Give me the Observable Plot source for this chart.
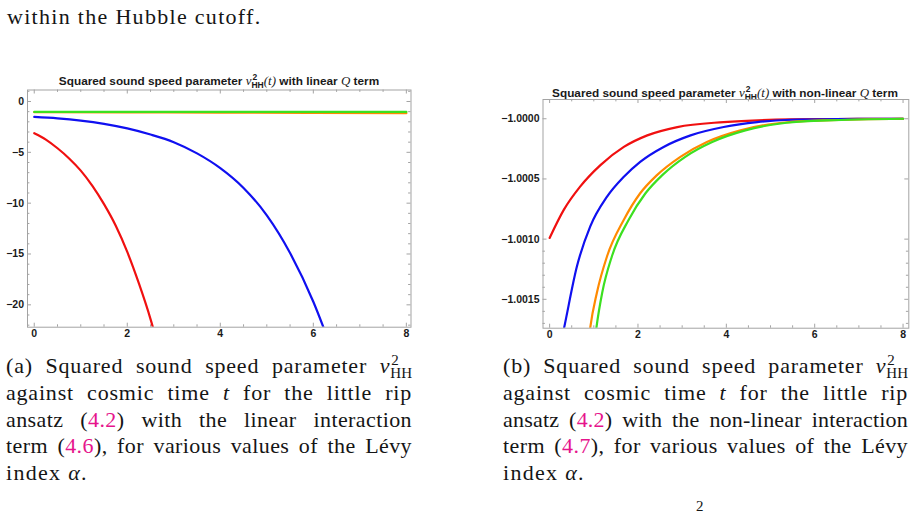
<!DOCTYPE html>
<html>
<head>
<meta charset="utf-8">
<script src="https://cdn.jsdelivr.net/npm/d3@7"></script>
<script src="https://cdn.jsdelivr.net/npm/@observablehq/plot@0.6"></script>
<style>
  html, body { margin: 0; padding: 0; background: #fff; }
  body { width: 916px; height: 513px; position: relative; overflow: hidden;
         font-family: "Liberation Serif", "DejaVu Serif", serif; color: #151515; }
  .txt { position: absolute; font-size: 22px; line-height: 26.8px; letter-spacing: 0.4px; }
  .cap .ln { height: 26.8px; text-align: justify; text-align-last: justify; }
  .cap .ln.last { text-align-last: left; }
  .cap .loose { letter-spacing: 0.8px; }
  .cap .tight { letter-spacing: 0.2px; }
  .wide { letter-spacing: 1.3px; }
  .ref { color: #e6148c; }
  .it { font-style: italic; }
  .ss { display: inline-block; position: relative; font-size: 15px; line-height: 15px; letter-spacing: 0; }
  .ss .sub { position: relative; top: 5px; }
  .ss .sup { position: absolute; left: 1px; top: -8px; }
  .ptitle { position: absolute; transform: translate(-50%, -50%); white-space: nowrap;
            font-family: "Liberation Sans", Arial, sans-serif; font-weight: bold; font-size: 11.8px; color: #1a1a1a; }
  .ptitle .m { font-family: "Liberation Serif", serif; font-weight: normal; font-style: italic; font-size: 1.1em; }
  .ptitle .tss { display: inline-block; position: relative; font-size: 8.5px; line-height: 8.5px; }
  .ptitle .tss .sub { position: relative; top: 3px; }
  .ptitle .tss .sup { position: absolute; left: 1px; top: -5px; }
  .chart { position: absolute; }
</style>
</head>
<body>

<div class="txt wide" style="left:7px; top:4px;">within the Hubble cutoff.</div>

<div class="ptitle" style="left:219px; top:81px;">Squared sound speed parameter <span class="m">v</span><span class="tss"><span class="sup">2</span><span class="sub">HH</span></span><span class="m">(t)</span> with linear <span class="m">Q</span> term</div>
<div class="ptitle" style="left:725px; top:93px;">Squared sound speed parameter <span class="m">v</span><span class="tss"><span class="sup">2</span><span class="sub">HH</span></span><span class="m">(t)</span> with non-linear <span class="m">Q</span> term</div>

<div id="chartA" class="chart" style="left:0px; top:80px;"></div>
<div id="chartB" class="chart" style="left:490px; top:90px;"></div>

<div class="txt cap" style="left:6px; top:353px; width:406px;">
  <div class="ln loose">(a) Squared sound speed parameter <span class="it">v</span><span class="ss"><span class="sup">2</span><span class="sub">HH</span></span></div>
  <div class="ln loose">against cosmic time <span class="it">t</span> for the little rip</div>
  <div class="ln">ansatz (<span class="ref">4.2</span>) with the linear interaction</div>
  <div class="ln">term (<span class="ref">4.6</span>), for various values of the Lévy</div>
  <div class="ln last wide">index <span class="it">α</span>.</div>
</div>

<div class="txt cap" style="left:503px; top:353px; width:405px;">
  <div class="ln loose">(b) Squared sound speed parameter <span class="it">v</span><span class="ss"><span class="sup">2</span><span class="sub">HH</span></span></div>
  <div class="ln loose">against cosmic time <span class="it">t</span> for the little rip</div>
  <div class="ln tight">ansatz (<span class="ref">4.2</span>) with the non-linear interaction</div>
  <div class="ln">term (<span class="ref">4.7</span>), for various values of the Lévy</div>
  <div class="ln last wide">index <span class="it">α</span>.</div>
</div>

<div class="txt" style="left:696px; top:493px; font-size:15px;">2</div>

<script>
// ---- (a) linear interaction term: v²_HH(t) for four Lévy indices ----
const linRedT    = [0, 0.25, 0.5, 0.75, 1, 1.25, 1.5, 1.75, 2, 2.25, 2.5, 2.6];
const linRedV    = [-3.12, -3.75, -4.6, -5.6, -6.8, -8.3, -10.1, -12.2, -14.8, -17.9, -21.4, -23];
const linBlueT   = [0, 0.5, 1, 1.5, 2, 2.5, 3, 3.5, 4, 4.5, 5, 5.5, 6, 6.3];
const linBlueV   = [-1.52, -1.66, -1.88, -2.2, -2.65, -3.25, -4.0, -5.1, -6.55, -8.5, -11.2, -14.9, -19.7, -23.2];
const linOrangeT = [0, 2, 4, 6, 8];
const linOrangeV = [-1.05, -1.07, -1.09, -1.12, -1.15];
const linGreenT  = [0, 2, 4, 6, 8];
const linGreenV  = [-1.03, -1.03, -1.03, -1.03, -1.03];

// ---- (b) non-linear interaction term ----
const nlRedT    = [0, 0.32, 0.69, 1.15, 1.68, 2.21, 2.89, 3.94, 5.45, 6.5, 8];
const nlRedV    = [-1.00099, -1.000757, -1.000564, -1.000385, -1.000234, -1.000138, -1.000069, -1.0000275, -1.0000055, -1.000002, -1.0];
const nlBlueT   = [0.28, 0.33, 0.62, 0.92, 1.30, 1.68, 2.05, 2.58, 3.19, 3.94, 4.70, 5.45, 6.5, 8];
const nlBlueV   = [-1.00182, -1.001733, -1.001224, -1.000894, -1.000647, -1.000482, -1.000358, -1.000234, -1.000138, -1.0000688, -1.0000275, -1.0000083, -1.000002, -1.0];
const nlOrangeT = [0.88, 0.92, 1.07, 1.30, 1.68, 2.05, 2.43, 2.96, 3.56, 4.32, 5.08, 6.21, 8];
const nlOrangeV = [-1.00185, -1.001733, -1.001445, -1.001142, -1.000839, -1.000619, -1.000468, -1.000316, -1.000193, -1.0000963, -1.0000413, -1.0000138, -1.0];
const nlGreenT  = [1.02, 1.06, 1.19, 1.41, 1.79, 2.17, 2.55, 3.07, 3.68, 4.43, 5.19, 6.28, 8];
const nlGreenV  = [-1.00185, -1.001733, -1.001445, -1.001142, -1.000839, -1.000619, -1.000468, -1.000316, -1.000193, -1.0000963, -1.0000413, -1.0000138, -1.0];

// ---- tick values ----
const xTicks  = [0, 2, 4, 6, 8];
const yTicksA = [0, -5, -10, -15, -20];
const yTicksB = [-1.0, -1.0005, -1.001, -1.0015];

const colors = {red: "#f01010", blue: "#1010f0", orange: "#ff8a00", green: "#3ce020"};
const frameGray = "#a3a3a3";
const minus = s => s.replace("-", "\u2212");

const pts = (ts, vs) => ts.map((t, i) => ({t, v: vs[i]}));

function curve(ts, vs, color) {
  return Plot.line(pts(ts, vs), {x: "t", y: "v", stroke: color, strokeWidth: 2.2, curve: "monotone-x", clip: true});
}

// Inward-pointing frame ticks on all four sides
function frameTicks({xMajor, xMinor, yMajor, yMinor, fw, fh}) {
  const big = 4, small = 2.4, s = {stroke: frameGray, strokeWidth: 1};
  return [
    Plot.tickX(xMajor, {x: d => d, insetTop: fh - big, ...s}),
    Plot.tickX(xMajor, {x: d => d, insetBottom: fh - big, ...s}),
    Plot.tickX(xMinor, {x: d => d, insetTop: fh - small, ...s}),
    Plot.tickX(xMinor, {x: d => d, insetBottom: fh - small, ...s}),
    Plot.tickY(yMajor, {y: d => d, insetRight: fw - big, ...s}),
    Plot.tickY(yMajor, {y: d => d, insetLeft: fw - big, ...s}),
    Plot.tickY(yMinor, {y: d => d, insetRight: fw - small, ...s}),
    Plot.tickY(yMinor, {y: d => d, insetLeft: fw - small, ...s})
  ];
}

const axisStyle = {fontWeight: "bold", fontSize: 10.5, fill: "#1a1a1a", label: null, tickSize: 0};

// Chart (a)
{
  const W = 420, H = 262, mL = 27, mR = 9.5, mT = 9.5, mB = 15.3;
  const fw = W - mL - mR, fh = H - mT - mB;
  const xMinor = d3.range(0, 8.01, 0.5).filter(v => !xTicks.includes(v));
  const yMinor = d3.range(-22, 1.01, 1).filter(v => !yTicksA.includes(v));
  const chart = Plot.plot({
    width: W, height: H, marginLeft: mL, marginRight: mR, marginTop: mT, marginBottom: mB,
    style: {fontFamily: "'Liberation Sans', Arial, sans-serif", background: "transparent"},
    x: {domain: [-0.145, 8.1]},
    y: {domain: [-22.2, 1.13]},
    marks: [
      curve(linRedT, linRedV, colors.red),
      curve(linBlueT, linBlueV, colors.blue),
      curve(linOrangeT, linOrangeV, colors.orange),
      curve(linGreenT, linGreenV, colors.green),
      ...frameTicks({xMajor: xTicks, xMinor, yMajor: yTicksA, yMinor, fw, fh}),
      Plot.frame({stroke: frameGray}),
      Plot.axisX(xTicks, {...axisStyle, anchor: "bottom", tickPadding: 2.5, tickFormat: d => String(d)}),
      Plot.axisY(yTicksA, {...axisStyle, anchor: "left", tickPadding: 3.5, tickFormat: d => minus(String(d))})
    ]
  });
  document.getElementById("chartA").append(chart);
}

// Chart (b)
{
  const W = 426, H = 250, mL = 52.5, mR = 7.7, mT = 9, mB = 12.3;
  const fw = W - mL - mR, fh = H - mT - mB;
  const xMinor = d3.range(0, 8.01, 0.5).filter(v => !xTicks.includes(v));
  const yMinor = d3.range(-17, -9.99, 1).map(k => +(-1 + k * 1e-4).toFixed(5))
    .filter(v => !yTicksB.some(t => Math.abs(t - v) < 1e-9));
  const chart = Plot.plot({
    width: W, height: H, marginLeft: mL, marginRight: mR, marginTop: mT, marginBottom: mB,
    style: {fontFamily: "'Liberation Sans', Arial, sans-serif", background: "transparent"},
    x: {domain: [-0.15, 8.13]},
    y: {domain: [-1.00174, -0.99984]},
    marks: [
      curve(nlRedT, nlRedV, colors.red),
      curve(nlBlueT, nlBlueV, colors.blue),
      curve(nlOrangeT, nlOrangeV, colors.orange),
      curve(nlGreenT, nlGreenV, colors.green),
      ...frameTicks({xMajor: xTicks, xMinor, yMajor: yTicksB, yMinor, fw, fh}),
      Plot.frame({stroke: frameGray}),
      Plot.axisX(xTicks, {...axisStyle, anchor: "bottom", tickPadding: 2.5, tickFormat: d => String(d)}),
      Plot.axisY(yTicksB, {...axisStyle, anchor: "left", tickPadding: 3.5, tickFormat: d => minus(d.toFixed(4))})
    ]
  });
  document.getElementById("chartB").append(chart);
}
</script>
</body>
</html>
